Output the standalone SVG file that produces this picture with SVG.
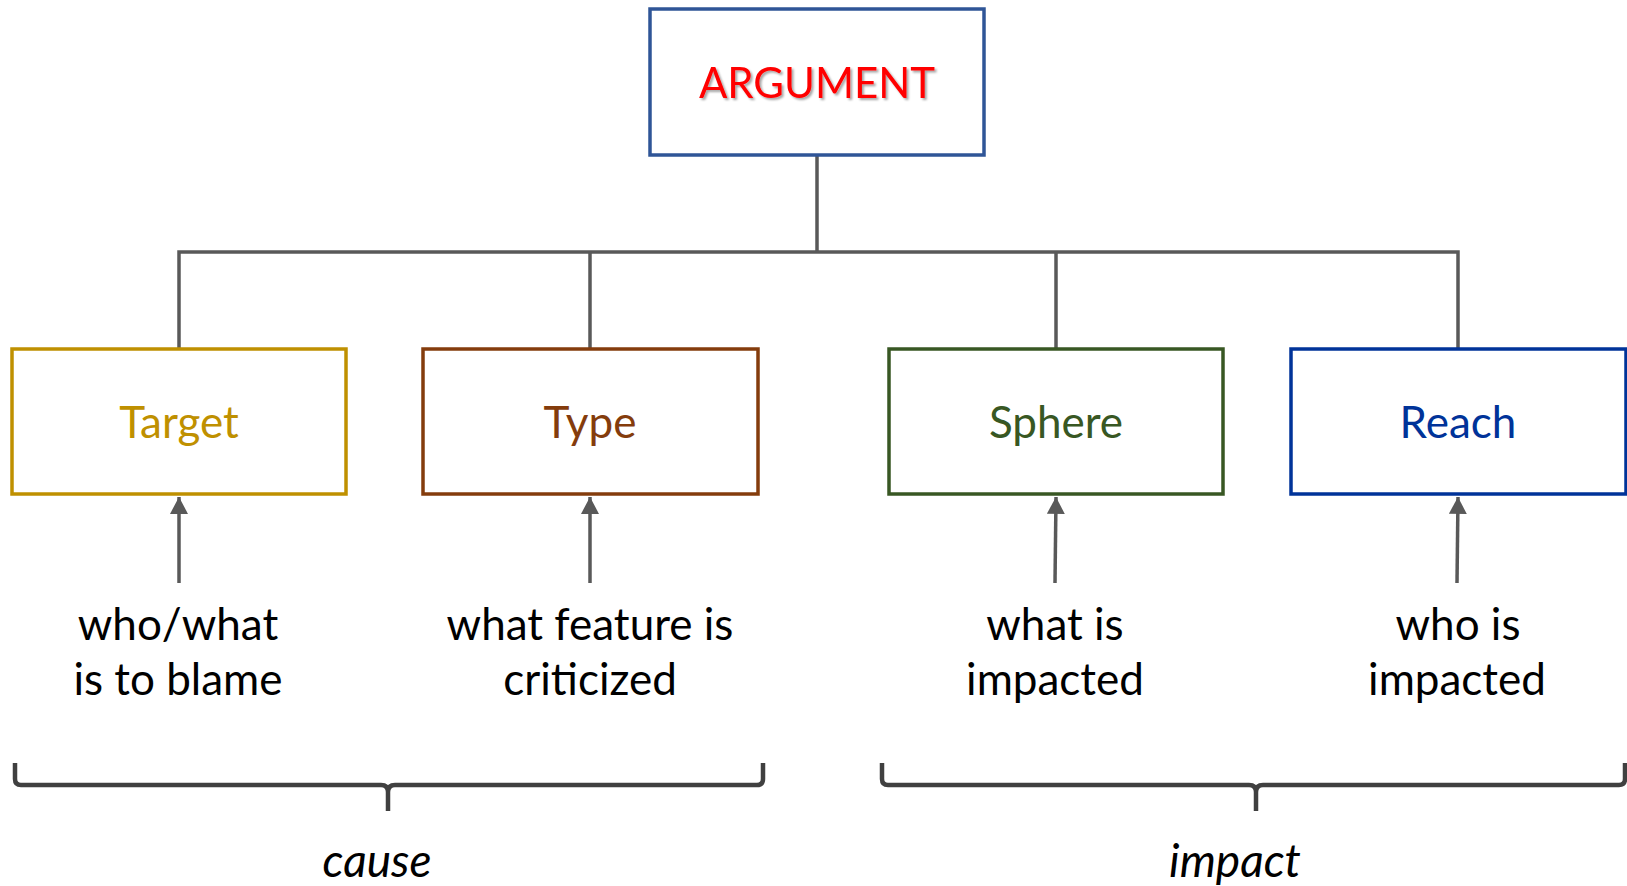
<svg xmlns="http://www.w3.org/2000/svg" width="1627" height="886" viewBox="0 0 1627 886">
<style>
.box{fill:#fff;stroke-width:3.5}
.lbl{font-family:Lato,"Open Sans",sans-serif;font-size:44px;text-anchor:middle}
.body{font-family:Lato,"Open Sans",sans-serif;font-size:44px;text-anchor:middle;fill:#000}
.grp{font-family:Lato,"Open Sans",sans-serif;font-size:46px;font-style:italic;text-anchor:middle;fill:#000}
.conn{stroke:#595959;stroke-width:3.5;fill:none}
.brace{stroke:#404040;stroke-width:4.5;fill:none;stroke-linejoin:round}
</style>
<defs>
<marker id="ah" markerWidth="18" markerHeight="18" viewBox="0 0 16 16" refX="15" refY="8" orient="auto" markerUnits="userSpaceOnUse">
<path d="M0,0 L15,8 L0,16 Z" fill="#595959"/>
</marker>
<filter id="sh" x="-10%" y="-20%" width="120%" height="150%">
<feGaussianBlur in="SourceAlpha" stdDeviation="1.2"/>
<feOffset dx="2" dy="2" result="b"/>
<feFlood flood-color="#000" flood-opacity="0.35"/>
<feComposite in2="b" operator="in"/>
<feMerge><feMergeNode/><feMergeNode in="SourceGraphic"/></feMerge>
</filter>
</defs>
<g id="connectors">
<path class="conn" d="M817,155 V252 M179,350 V252 H1458 V350 M590,252 V350 M1056,252 V350"/>
<line class="conn" x1="179" y1="583" x2="179" y2="497" marker-end="url(#ah)"/>
<line class="conn" x1="590" y1="583" x2="590" y2="497" marker-end="url(#ah)"/>
<line class="conn" x1="1055" y1="583" x2="1056" y2="497" marker-end="url(#ah)"/>
<line class="conn" x1="1457" y1="583" x2="1458" y2="497" marker-end="url(#ah)"/>
</g>
<g id="argument">
<rect class="box" x="650" y="9" width="334" height="146" stroke="#2F5597" stroke-width="3"/>
<text class="lbl" x="817" y="98" fill="#FF0000" filter="url(#sh)" style="font-size:42px">ARGUMENT</text>
</g>
<g id="target">
<rect class="box" x="12" y="349" width="334" height="145" stroke="#BF9000"/>
<text class="lbl" x="179" y="438" fill="#BF9000">Target</text>
</g>
<g id="type">
<rect class="box" x="423" y="349" width="335" height="145" stroke="#843C0C"/>
<text class="lbl" x="590" y="438" fill="#843C0C">Type</text>
</g>
<g id="sphere">
<rect class="box" x="889" y="349" width="334" height="145" stroke="#385723"/>
<text class="lbl" x="1056" y="438" fill="#385723">Sphere</text>
</g>
<g id="reach">
<rect class="box" x="1291" y="349" width="335" height="145" stroke="#003399"/>
<text class="lbl" x="1458" y="438" fill="#003399">Reach</text>
</g>
<g id="desc-target"><text class="body" x="178" y="640">who/what</text><text class="body" x="178" y="695">is to blame</text></g>
<g id="desc-type"><text class="body" x="590" y="640">what feature is</text><text class="body" x="590" y="695">criticized</text></g>
<g id="desc-sphere"><text class="body" x="1055" y="640">what is</text><text class="body" x="1055" y="695">impacted</text></g>
<g id="desc-reach"><text class="body" x="1458" y="640">who is</text><text class="body" x="1457" y="695">impacted</text></g>
<g id="cause">
<path class="brace" d="M15,763 V779 Q15,785 21,785 H381 Q388,785 388,792 V811 M388,792 Q388,785 395,785 H757 Q763,785 763,779 V763"/>
<text class="grp" x="377" y="877">cause</text>
</g>
<g id="impact">
<path class="brace" d="M882,763 V779 Q882,785 888,785 H1249 Q1256,785 1256,792 V811 M1256,792 Q1256,785 1263,785 H1619 Q1625,785 1625,779 V763"/>
<text class="grp" x="1235" y="877">impact</text>
</g>
</svg>
